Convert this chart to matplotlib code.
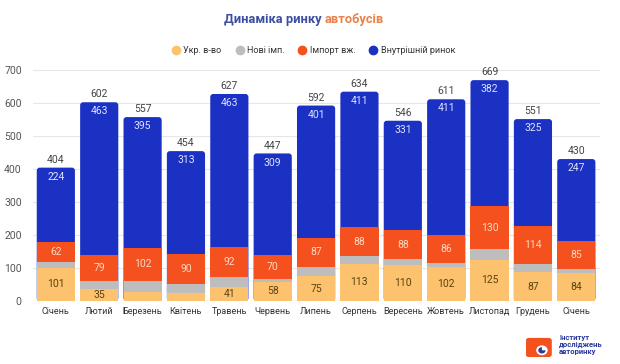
import matplotlib.pyplot as plt
import numpy as np
from matplotlib.patches import FancyBboxPatch, Circle, Wedge

plt.rcParams['font.family'] = ['Roboto', 'DejaVu Sans']

# дані
months = ['Січень', 'Лютий', 'Березень', 'Квітень', 'Травень', 'Червень', 'Липень',
          'Серпень', 'Вересень', 'Жовтень', 'Листопад', 'Грудень', 'Січень']
ukr = [101, 35, 27, 24, 41, 58, 75, 113, 110, 102, 125, 87, 84]
new_imp = [17, 25, 33, 27, 31, 10, 29, 22, 17, 12, 32, 25, 14]
used_imp = [62, 79, 102, 90, 92, 70, 87, 88, 88, 86, 130, 114, 85]
domestic = [224, 463, 395, 313, 463, 309, 401, 411, 331, 411, 382, 325, 247]
totals = [404, 602, 557, 454, 627, 447, 592, 634, 546, 611, 669, 551, 430]
show_ukr = [True, True, False, False, True, True, True, True, True, True, True, True, True]
series = ['Укр. в-во', 'Нові імп.', 'Імпорт вж.', 'Внутрішній ринок']

c_ukr = '#fdc26e'
c_new = '#bdbdbd'
c_used = '#f4511e'
c_dom = '#1b31c4'

fig = plt.figure(figsize=(6.2, 3.64), dpi=100)
ax = fig.add_axes([0.053, 0.173, 0.915, 0.635])

x = np.arange(len(months))
w = 0.88
ukr = np.array(ukr); new_imp = np.array(new_imp)
used_imp = np.array(used_imp); domestic = np.array(domestic)

ax.set_xlim(-0.53, len(months) - 0.45)
ax.set_ylim(0, 700)

# синя частина з заокругленим верхом (малюється від нуля, низ перекривається)
px_x = (ax.get_xlim()[1] - ax.get_xlim()[0]) / (0.915 * 620)
px_y = 700 / (0.635 * 364)
for i in range(len(months)):
    top = ukr[i] + new_imp[i] + used_imp[i] + domestic[i]
    p = FancyBboxPatch((x[i] - w / 2, 0), w, top,
                       boxstyle='round,pad=0,rounding_size=%f' % (3 * px_x),
                       mutation_aspect=px_y / px_x, fc=c_dom, ec='none', zorder=2)
    ax.add_patch(p)

ax.bar(x, ukr, w, color=c_ukr, zorder=3)
ax.bar(x, new_imp, w, bottom=ukr, color=c_new, zorder=3)
ax.bar(x, used_imp, w, bottom=ukr + new_imp, color=c_used, zorder=3)

for i in range(len(months)):
    top = ukr[i] + new_imp[i] + used_imp[i] + domestic[i]
    ax.annotate(str(totals[i]), (x[i], top), xytext=(0, 2), textcoords='offset points',
                ha='center', va='bottom', fontsize=7.5, color='#444444')
    ax.annotate(str(domestic[i]), (x[i], top), xytext=(0, -3), textcoords='offset points',
                ha='center', va='top', fontsize=7.5, color='#dfe3ff', zorder=5)
    ax.text(x[i], ukr[i] + new_imp[i] + used_imp[i] / 2, str(used_imp[i]),
            ha='center', va='center', fontsize=7.5, color='#ffd9c4', zorder=5)
    if show_ukr[i]:
        ax.text(x[i], ukr[i] / 2, str(ukr[i]), ha='center', va='center',
                fontsize=7.5, color='#5a4214', zorder=5)

ax.set_xticks(x)
ax.set_xticklabels(months, fontsize=6.5, color='#333333')
ax.set_yticks(range(0, 701, 100))
ax.tick_params(axis='y', labelsize=7.5, labelcolor='#555555', length=0, pad=8)
ax.tick_params(axis='x', length=0, pad=4)
ax.grid(axis='y', color='#e6e6e6', lw=0.8, zorder=0)
ax.set_axisbelow(True)
for s in ax.spines.values():
    s.set_visible(False)

# заголовок
fig.text(0.524, 0.947, 'Динаміка ринку ', ha='right', va='center', fontsize=9.3,
         fontweight='bold', color='#3b4ea3')
fig.text(0.524, 0.947, 'автобусів', ha='left', va='center', fontsize=9.3,
         fontweight='bold', color='#e9834a')

# легенда з кружечками
handles = [plt.Line2D([], [], ls='', marker='o', ms=6, color=c)
           for c in [c_ukr, c_new, c_used, c_dom]]
leg = fig.legend(handles, series, loc='center', bbox_to_anchor=(0.506, 0.862), ncol=4,
                 frameon=False, fontsize=6.5, handlelength=0.8, columnspacing=1.6,
                 handletextpad=0.4)
for t in leg.get_texts():
    t.set_color('#333333')

# логотип
lax = fig.add_axes([0.848, 0.019, 0.042, 0.062])
lax.set_xlim(0, 1); lax.set_ylim(0, 1); lax.axis('off')
lax.add_patch(FancyBboxPatch((0.0, 0.0), 1.0, 0.85, boxstyle='round,pad=0,rounding_size=0.12',
                             fc='#f4511e', ec='none'))
lax.add_patch(Circle((0.62, 0.3), 0.22, fc='white', ec='none'))
lax.add_patch(Wedge((0.62, 0.3), 0.14, 90, 360, fc='#2a3a9a', ec='none'))
fig.text(0.902, 0.054, 'Інститут\nдосліджень\nавторинку', ha='left', va='center',
         fontsize=5.5, fontweight='bold', color='#2a3a9a', linespacing=1.0)

fig.savefig('out.png', dpi=100, facecolor='white')
